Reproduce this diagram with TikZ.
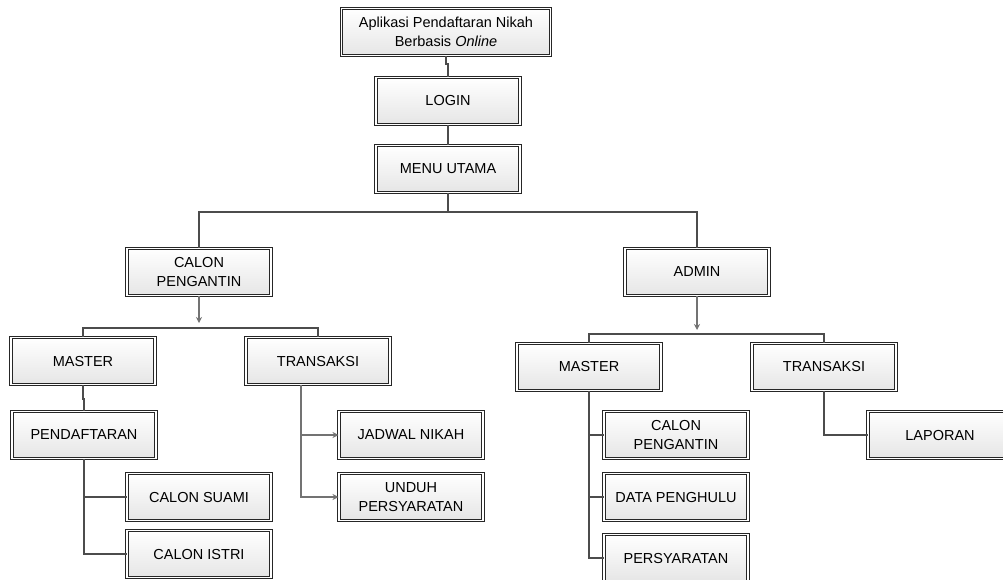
\documentclass[tikz,border=0pt]{standalone}
\usepackage{fontspec}
\setmainfont{Liberation Sans}
\usetikzlibrary{arrows.meta}
\tikzset{box/.style={draw=black!85,double=white,double distance=1.8pt,line width=1pt,
    top color=white,bottom color=black!10,minimum width=144,minimum height=47,
    align=center,font=\fontsize{14.5}{18.5}\selectfont},
  conn/.style={draw=black!70,line width=1.1pt},
  arr/.style={draw=black!55,line width=1.1pt,-{Stealth[length=6pt,width=6pt]}}}

\begin{document}
\begin{tikzpicture}[x=1pt,y=-1pt]
\useasboundingbox (0,0) rectangle (1003,579);
       \node [box,minimum width=209] at (446,32) (app) {Aplikasi Pendaftaran Nikah\\Berbasis \textit{Online}};
          \node [box] at (448,101) (login) {LOGIN};
             \node [box] at (448,169) (menu) {MENU UTAMA};
%
                \node [box] at (199,272) (cpL) {CALON\\PENGANTIN};
                \node [box] at (697,272) (admin) {ADMIN};
%
                  \node [box] at (83,361) (masterA) {MASTER};
                  \node [box] at (318,361) (transA) {TRANSAKSI};
                  \node [box] at (84,435) (daftar) {PENDAFTARAN};
                  \node [box] at (199,497) (suami) {CALON SUAMI};
                  \node [box] at (199,554) (istri) {CALON ISTRI};
                  \node [box] at (411,435) (jadwal) {JADWAL NIKAH};
                  \node [box] at (411,497) (unduh) {UNDUH\\PERSYARATAN};
%
                   \node [box] at (589,367) (masterB) {MASTER};
                   \node [box] at (824,367) (transB) {TRANSAKSI};
                   \node [box] at (676,435) (cpB) {CALON\\PENGANTIN};
                   \node [box] at (676,497) (penghulu) {DATA PENGHULU};
                   \node [box] at (676,558) (syarat) {PERSYARATAN};
                   \node [box] at (940,435) (laporan) {LAPORAN};
%
%
\draw[conn] (app.south) -- ++(0,8) -| (login.north);
\draw[conn] (login) -- (menu);
\draw[conn] (menu.south) -- ++(0,19) -| (cpL.north);
\draw[conn] (menu.south) -- ++(0,19) -| (admin.north);
%
\draw[arr] (cpL.south) -- ++(0,27);
\draw[conn] (masterA.north) -- ++(0,-9) -| (transA.north);
\draw[conn] (masterA.south) -- ++(0,14) -| (daftar.north);
\draw[conn] (daftar.south) |- (suami.west);
\draw[conn] (daftar.south) |- (istri.west);
\draw[arr] ([xshift=-17pt]transA.south) |- (jadwal.west);
\draw[arr] ([xshift=-17pt]transA.south) |- (unduh.west);
%
\draw[arr] (admin.south) -- ++(0,34);
\draw[conn] (masterB.north) -- ++(0,-9) -| (transB.north);
\draw[conn] (masterB.south) |- (cpB.west);
\draw[conn] (masterB.south) |- (penghulu.west);
\draw[conn] (masterB.south) |- (syarat.west);
\draw[conn] (transB.south) |- (laporan.west);

\end{tikzpicture}
\end{document}
